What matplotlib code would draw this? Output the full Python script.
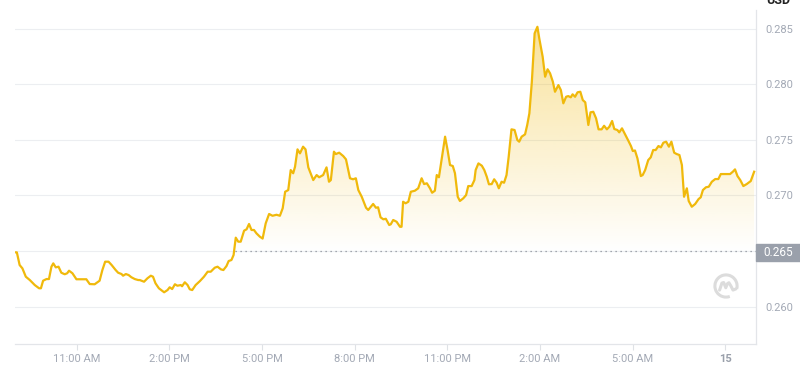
import numpy as np
import matplotlib
matplotlib.use("Agg")
import matplotlib.pyplot as plt
from matplotlib.patches import Rectangle, Arc

# hours since chart start (about 9:00 AM) and price in USD
hours = [0.00, 0.06, 0.15, 0.24, 0.35, 0.48, 0.64, 0.78, 0.84, 0.91, 1.02, 1.10, 1.18, 1.24,
         1.32, 1.41, 1.50, 1.61, 1.69, 1.75, 1.86, 1.99, 2.15, 2.31, 2.42, 2.58, 2.74, 2.83,
         2.92, 3.03, 3.13, 3.26, 3.34, 3.45, 3.50, 3.59, 3.68, 3.77, 3.88, 3.99, 4.04, 4.18,
         4.29, 4.40, 4.47, 4.55, 4.66, 4.83, 4.94, 5.01, 5.09, 5.18, 5.26, 5.37, 5.41, 5.50,
         5.59, 5.66, 5.74, 5.85, 5.99, 6.12, 6.24, 6.34, 6.47, 6.56, 6.67, 6.75, 6.85, 6.92,
         7.01, 7.08, 7.15, 7.23, 7.31, 7.42, 7.50, 7.58, 7.66, 7.74, 7.82, 7.93, 8.02, 8.12,
         8.23, 8.34, 8.47, 8.58, 8.67, 8.75, 8.85, 8.93, 9.01, 9.07, 9.15, 9.23, 9.33, 9.41,
         9.50, 9.66, 9.77, 9.85, 9.98, 10.09, 10.17, 10.23, 10.33, 10.39, 10.50, 10.63, 10.72,
         10.85, 10.95, 11.04, 11.12, 11.23, 11.37, 11.44, 11.60, 11.69, 11.76, 11.84, 11.93,
         12.01, 12.12, 12.17, 12.25, 12.36, 12.47, 12.52, 12.57, 12.65, 12.74, 12.82, 12.95,
         13.06, 13.17, 13.25, 13.34, 13.44, 13.51, 13.60, 13.66, 13.73, 13.83, 13.93, 14.01,
         14.09, 14.18, 14.25, 14.34, 14.41, 14.52, 14.61, 14.68, 14.79, 14.88, 14.92, 15.01,
         15.12, 15.20, 15.28, 15.35, 15.44, 15.52, 15.60, 15.67, 15.76, 15.84, 15.92, 15.99,
         16.08, 16.18, 16.27, 16.33, 16.41, 16.52, 16.59, 16.66, 16.74, 16.83, 16.92, 16.98,
         17.09, 17.17, 17.25, 17.33, 17.42, 17.49, 17.60, 17.68, 17.76, 17.85, 17.92, 18.00,
         18.06, 18.14, 18.22, 18.31, 18.39, 18.47, 18.57, 18.64, 18.73, 18.82, 18.90, 19.00,
         19.08, 19.17, 19.25, 19.34, 19.41, 19.51, 19.57, 19.66, 19.76, 19.87, 19.95, 20.01,
         20.08, 20.16, 20.27, 20.33, 20.41, 20.51, 20.59, 20.67, 20.75, 20.84, 20.92, 21.00,
         21.09, 21.18, 21.26, 21.35, 21.43, 21.52, 21.60, 21.67, 21.76, 21.82, 21.92, 22.03,
         22.14, 22.21, 22.28, 22.38, 22.47, 22.57, 22.68, 22.78, 22.86, 23.00, 23.16, 23.25,
         23.32, 23.40, 23.49, 23.59, 23.70, 23.83, 23.94]

price = [0.26488, 0.26488, 0.26374, 0.26344, 0.26269, 0.26239, 0.26194, 0.26165, 0.26165,
         0.26233, 0.26248, 0.26248, 0.26359, 0.26389, 0.26353, 0.26359, 0.26305, 0.26291,
         0.26300, 0.26323, 0.26300, 0.26246, 0.26246, 0.26246, 0.26203, 0.26201, 0.26233,
         0.26329, 0.26404, 0.26404, 0.26374, 0.26329, 0.26305, 0.26293, 0.26278, 0.26293,
         0.26284, 0.26264, 0.26248, 0.26239, 0.26239, 0.26224, 0.26255, 0.26278, 0.26269,
         0.26210, 0.26165, 0.26129, 0.26149, 0.26174, 0.26158, 0.26201, 0.26188, 0.26194,
         0.26183, 0.26219, 0.26194, 0.26156, 0.26149, 0.26194, 0.26230, 0.26269, 0.26314,
         0.26314, 0.26350, 0.26359, 0.26335, 0.26329, 0.26365, 0.26410, 0.26419, 0.26464,
         0.26620, 0.26584, 0.26584, 0.26683, 0.26695, 0.26743, 0.26689, 0.26689, 0.26659,
         0.26629, 0.26612, 0.26749, 0.26833, 0.26817, 0.26826, 0.26817, 0.26884, 0.27033,
         0.27048, 0.27228, 0.27199, 0.27258, 0.27414, 0.27378, 0.27438, 0.27414, 0.27252,
         0.27138, 0.27183, 0.27163, 0.27183, 0.27252, 0.27123, 0.27138, 0.27393, 0.27372,
         0.27384, 0.27354, 0.27324, 0.27154, 0.27145, 0.27154, 0.27048, 0.26988, 0.26889,
         0.26869, 0.26923, 0.26889, 0.26893, 0.26803, 0.26785, 0.26790, 0.26734, 0.26740,
         0.26779, 0.26763, 0.26718, 0.26718, 0.26943, 0.26929, 0.26943, 0.27033, 0.27042,
         0.27064, 0.27154, 0.27102, 0.27109, 0.27064, 0.27024, 0.27042, 0.27183, 0.27163,
         0.27348, 0.27528, 0.27408, 0.27273, 0.27264, 0.27199, 0.26988, 0.26950, 0.26974,
         0.27003, 0.27084, 0.27084, 0.27138, 0.27228, 0.27288, 0.27267, 0.27228, 0.27168,
         0.27100, 0.27102, 0.27145, 0.27114, 0.27064, 0.27123, 0.27114, 0.27183, 0.27348,
         0.27594, 0.27588, 0.27498, 0.27483, 0.27528, 0.27549, 0.27633, 0.27738, 0.28022,
         0.28457, 0.28516, 0.28412, 0.28247, 0.28067, 0.28134, 0.28098, 0.28022, 0.27932,
         0.27992, 0.27947, 0.27828, 0.27887, 0.27893, 0.27882, 0.27909, 0.27887, 0.27927,
         0.27932, 0.27857, 0.27837, 0.27633, 0.27747, 0.27752, 0.27693, 0.27594, 0.27594,
         0.27626, 0.27594, 0.27617, 0.27669, 0.27597, 0.27588, 0.27567, 0.27603, 0.27549,
         0.27489, 0.27444, 0.27399, 0.27404, 0.27333, 0.27174, 0.27183, 0.27228, 0.27318,
         0.27342, 0.27408, 0.27408, 0.27444, 0.27432, 0.27474, 0.27483, 0.27438, 0.27483,
         0.27384, 0.27372, 0.27363, 0.27273, 0.26988, 0.27064, 0.26950, 0.26898, 0.26923,
         0.26967, 0.26983, 0.27048, 0.27073, 0.27078, 0.27123, 0.27147, 0.27147, 0.27192,
         0.27192, 0.27192, 0.27213, 0.27234, 0.27174, 0.27138, 0.27084, 0.27102, 0.27129,
         0.27213]

open_price = 0.265
tick_hours = [2, 5, 8, 11, 14, 17, 20, 23]
tick_labels = ["11:00 AM", "2:00 PM", "5:00 PM", "8:00 PM", "11:00 PM", "2:00 AM", "5:00 AM", "15"]
y_ticks = [0.260, 0.265, 0.270, 0.275, 0.280, 0.285]

line_col = "#F0B90B"
grid_col = "#eceef1"
label_col = "#a3a9b5"

plt.rcParams["font.family"] = ["Roboto", "DejaVu Sans"]

fig = plt.figure(figsize=(8, 3.7), dpi=100)
ax = fig.add_axes([15 / 800, 26 / 370, 741 / 800, 334 / 370])
ymin, ymax = 0.25664, 0.28667
ax.set_xlim(0, 24.0)
ax.set_ylim(ymin, ymax)

# gradient fill under the line
poly = ax.fill_between(hours, price, ymin, color="none", lw=0)
n = 256
grad = np.zeros((n, 1, 4))
rgb = matplotlib.colors.to_rgb(line_col)
grad[:, 0, 0], grad[:, 0, 1], grad[:, 0, 2] = rgb
ys = np.linspace(ymin, max(price), n)
grad[:, 0, 3] = np.clip((ys - 0.2648) / (0.2855 - 0.2648), 0, 1) * 0.42
im = ax.imshow(grad, extent=[0, 24, ymin, max(price)], origin="lower",
               aspect="auto", zorder=1, interpolation="bilinear")
im.set_clip_path(poly.get_paths()[0], transform=ax.transData)

ax.plot(hours, price, color=line_col, lw=1.6, zorder=3, solid_joinstyle="round")

# dotted open-price line
ax.plot([7.13, 24], [open_price, open_price], color="#8a8f99", lw=0.9,
        ls=(0, (1, 3)), zorder=2)

for y in y_ticks:
    ax.axhline(y, color=grid_col, lw=0.8, zorder=0)

ax.set_yticks(y_ticks)
ax.set_yticklabels(["0.260", "", "0.270", "0.275", "0.280", "0.285"])
ax.yaxis.tick_right()
ax.tick_params(axis="y", length=0, pad=7, labelsize=8, labelcolor=label_col)
ax.set_xticks(tick_hours)
ax.set_xticklabels(tick_labels)
ax.tick_params(axis="x", length=4, width=0.8, color="#dfe2e6", pad=3,
               labelsize=8, labelcolor=label_col)
ax.get_xticklabels()[-1].set_fontweight("bold")
ax.get_xticklabels()[-1].set_color("#9aa0ab")

for s in ["left", "top"]:
    ax.spines[s].set_visible(False)
for s in ["right", "bottom"]:
    ax.spines[s].set_color("#e3e5e9")
    ax.spines[s].set_linewidth(0.9)

# current price box
fig.patches.append(Rectangle((756 / 800, (370 - 261) / 370), 44 / 800, 17 / 370,
                             transform=fig.transFigure, color="#9aa0ab", zorder=5))
fig.text(778 / 800, (370 - 253) / 370, "0.265", color="white", fontsize=8.5,
         ha="center", va="center", zorder=6)

# currency label, cut by the top edge as in the source
fig.text(778 / 800, 366.5 / 370, "USD", color="#222222", fontsize=9,
         fontweight="bold", ha="center", va="baseline")

# watermark logo
lax = fig.add_axes([712 / 800, (370 - 300) / 370, 28 / 800, 28 / 370])
lax.set_xlim(-1.2, 1.2)
lax.set_ylim(-1.2, 1.2)
lax.set_aspect("equal")
lax.axis("off")
lax.add_patch(Arc((0, 0), 1.9, 1.9, theta1=-15, theta2=290, color="#dcdcdc", lw=2.2))
lax.plot([-0.55, -0.35, -0.2, -0.02, 0.12, 0.25, 0.42, 0.6, 0.85],
         [-0.35, 0.25, 0.3, -0.15, 0.2, 0.28, 0.0, -0.35, -0.25],
         color="#dcdcdc", lw=2.2, solid_capstyle="round")

fig.savefig("out.png", dpi=100)
